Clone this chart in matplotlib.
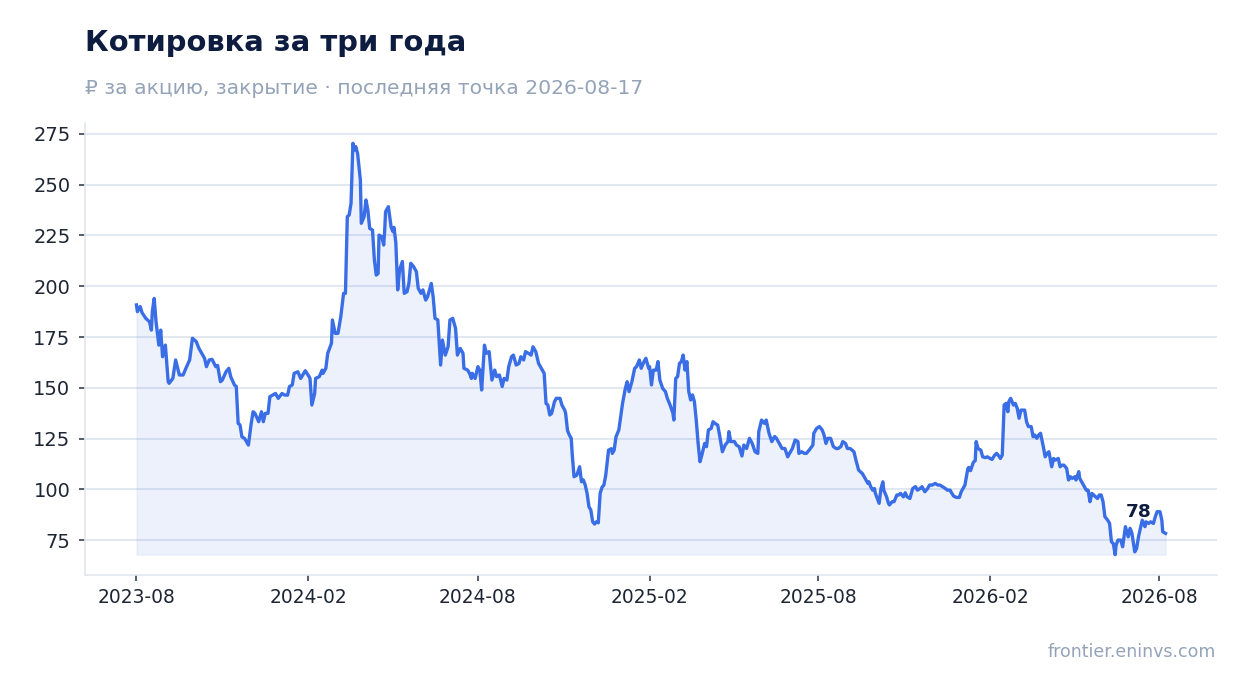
import matplotlib
matplotlib.use("Agg")
import matplotlib.pyplot as plt
import numpy as np
import pandas as pd

# ---------------- data ----------------
start_date = "2023-08-01"
days_since_start = [
    0, 1, 4, 6, 10, 14, 16, 17, 19, 21, 24, 26, 28, 31, 34, 35, 39, 42, 46, 50,
    53, 57, 60, 64, 67, 73, 75, 78, 81, 85, 87, 90, 92, 96, 99, 101, 105, 107, 109, 111,
    113, 116, 117, 120, 123, 125, 127, 131, 134, 136, 138, 141, 143, 146, 149, 152, 156, 159, 162, 164,
    167, 169, 173, 176, 181, 185, 186, 188, 191, 192, 196, 199, 200, 203, 205, 209, 210, 213, 216, 219,
    222, 224, 226, 228, 230, 232, 234, 235, 237, 240, 241, 244, 246, 248, 250, 253, 255, 257, 259, 260,
    263, 265, 266, 267, 270, 273, 275, 276, 278, 280, 282, 285, 287, 290, 292, 294, 297, 300, 302, 305,
    307, 310, 312, 316, 318, 320, 323, 325, 326, 328, 331, 334, 336, 339, 342, 344, 347, 350, 351, 355,
    357, 359, 360, 363, 366, 368, 370, 373, 375, 378, 381, 384, 386, 389, 392, 394, 397, 399, 402, 404,
    407, 410, 412, 415, 417, 420, 423, 425, 428, 431, 435, 437, 439, 441, 443, 445, 448, 450, 454, 456,
    459, 460, 462, 464, 466, 467, 469, 472, 475, 477, 479, 481, 483, 485, 487, 489, 491, 493, 495, 497,
    499, 501, 503, 506, 509, 510, 512, 514, 517, 519, 521, 524, 526, 528, 531, 534, 536, 539, 541, 544,
    546, 549, 550, 552, 554, 557, 559, 561, 564, 567, 569, 572, 575, 576, 578, 580, 582, 584, 586, 588,
    590, 592, 594, 596, 598, 600, 602, 604, 606, 609, 611, 613, 616, 618, 620, 623, 625, 628, 631, 634,
    635, 637, 641, 643, 646, 649, 651, 654, 657, 660, 663, 666, 667, 670, 673, 675, 678, 681, 684, 686,
    689, 692, 695, 698, 700, 703, 706, 709, 710, 713, 716, 718, 721, 725, 726, 729, 732, 735, 737, 739,
    741, 744, 747, 750, 752, 755, 757, 760, 762, 765, 767, 769, 771, 774, 776, 778, 781, 784, 785, 787,
    789, 791, 792, 794, 796, 798, 800, 801, 804, 806, 807, 810, 812, 815, 817, 819, 822, 824, 826, 829,
    832, 835, 837, 840, 842, 845, 848, 850, 853, 856, 859, 861, 864, 867, 869, 872, 874, 876, 879, 882,
    884, 886, 888, 891, 892, 894, 897, 899, 900, 902, 905, 907, 910, 912, 915, 917, 920, 922, 925, 926,
    928, 930, 932, 934, 935, 937, 940, 942, 944, 946, 948, 950, 952, 954, 956, 959, 961, 963, 965, 967,
    969, 972, 974, 976, 978, 981, 983, 985, 988, 990, 992, 994, 997, 999, 1001, 1003, 1006, 1007, 1010, 1011,
    1013, 1016, 1018, 1020, 1022, 1024, 1026, 1028, 1030, 1032, 1034, 1036, 1038, 1041, 1043, 1045, 1047, 1049, 1050, 1052,
    1055, 1057, 1060, 1063, 1065, 1067, 1070, 1072, 1074, 1076, 1078, 1081, 1082, 1085, 1087, 1090, 1092, 1094, 1097, 1099,
    1100, 1103,
]
close_price = [
    190.8, 187.5, 190.0, 187.0, 184.2, 182.5, 178.4, 187.5, 194.0, 182.5, 171.0, 178.4, 165.3, 171.0, 153.0, 152.2, 154.6, 163.7, 156.3, 156.3,
    159.6, 163.7, 174.4, 172.8, 169.4, 164.5, 160.4, 163.7, 164.0, 160.4, 161.0, 153.0, 153.8, 157.9, 159.6, 155.5, 151.4, 150.6, 132.5, 131.7,
    125.9, 125.0, 124.2, 121.8, 132.5, 138.2, 137.4, 133.3, 138.2, 133.3, 137.4, 137.4, 145.6, 146.4, 147.2, 144.8, 147.2, 146.4, 146.4, 150.6,
    151.4, 157.1, 157.9, 154.6, 158.4, 155.5, 154.6, 141.5, 147.2, 154.6, 155.5, 158.7, 157.1, 159.6, 167.0, 171.9, 183.4, 176.8, 176.8, 185.0,
    196.5, 196.5, 234.3, 235.1, 240.9, 270.4, 267.1, 268.8, 265.5, 252.3, 231.0, 234.3, 242.5, 237.6, 228.5, 227.7, 213.0, 205.5, 206.3, 225.2,
    224.4, 220.3, 226.9, 236.7, 239.2, 229.0, 226.9, 229.0, 221.5, 198.2, 208.0, 212.2, 196.5, 197.3, 201.4, 211.3, 209.7, 207.2, 199.0, 196.5,
    198.2, 193.2, 194.8, 201.4, 194.8, 184.2, 183.4, 168.6, 161.2, 173.5, 166.1, 170.2, 183.4, 184.2, 179.3, 166.1, 169.4, 167.0, 159.6, 158.7,
    157.1, 154.6, 157.1, 154.6, 160.4, 158.7, 148.9, 171.0, 167.0, 167.8, 153.8, 158.7, 155.5, 156.3, 150.6, 154.6, 153.8, 160.4, 165.3, 166.1,
    161.2, 162.0, 165.3, 163.7, 167.8, 167.0, 166.1, 170.2, 167.8, 162.0, 158.7, 157.1, 142.3, 141.5, 136.6, 137.4, 143.1, 144.8, 144.8, 141.5,
    139.0, 137.4, 129.0, 126.7, 125.1, 117.7, 106.2, 107.0, 111.1, 103.7, 104.6, 102.1, 98.0, 91.4, 89.8, 84.0, 82.9, 84.0, 83.5, 98.0,
    101.0, 102.1, 107.0, 119.3, 120.0, 117.7, 119.3, 125.9, 129.2, 135.8, 142.3, 149.7, 153.0, 148.1, 153.0, 159.6, 160.4, 163.7, 159.6, 162.9,
    164.5, 159.6, 160.4, 151.4, 158.7, 158.7, 162.9, 153.8, 149.7, 148.1, 144.8, 141.5, 137.4, 134.1, 154.6, 155.5, 162.0, 162.9, 166.1, 158.7,
    162.9, 148.1, 144.0, 146.5, 143.2, 134.1, 122.6, 113.6, 116.9, 122.6, 121.0, 129.2, 130.0, 133.3, 132.5, 131.6, 126.7, 118.5, 121.8, 123.5,
    128.4, 123.5, 123.5, 121.8, 121.0, 116.4, 121.8, 120.1, 125.1, 122.6, 118.5, 117.7, 128.4, 134.1, 132.5, 134.1, 127.6, 123.5, 126.0, 125.1,
    122.6, 120.1, 120.1, 116.0, 117.7, 120.1, 124.3, 123.5, 117.7, 118.5, 117.7, 117.7, 119.3, 121.8, 127.6, 130.0, 130.9, 129.2, 126.7, 122.6,
    125.1, 125.1, 121.0, 120.1, 120.1, 121.0, 123.5, 122.6, 120.1, 120.1, 119.3, 118.5, 114.7, 109.5, 108.6, 107.8, 105.4, 102.9, 103.7, 101.3,
    99.6, 100.4, 98.0, 95.5, 93.1, 100.4, 103.7, 99.6, 96.3, 93.1, 92.3, 93.9, 93.9, 97.2, 97.2, 98.0, 96.3, 98.3, 96.3, 95.5,
    100.4, 101.3, 99.6, 100.4, 101.3, 98.8, 100.4, 102.1, 102.1, 102.9, 102.1, 102.1, 101.3, 100.4, 99.6, 99.6, 98.0, 96.6, 96.0, 96.0,
    98.8, 100.4, 102.1, 110.0, 110.8, 109.2, 113.3, 114.1, 123.5, 120.1, 119.3, 116.0, 115.6, 116.0, 115.2, 114.7, 116.9, 117.7, 116.0, 115.2,
    116.9, 141.5, 142.3, 138.2, 143.2, 144.8, 141.5, 142.3, 139.9, 135.0, 139.0, 139.0, 139.0, 133.3, 130.9, 130.9, 125.9, 126.7, 125.1, 126.7,
    127.6, 121.0, 116.0, 117.7, 118.5, 111.1, 115.2, 114.4, 115.2, 111.1, 111.9, 111.9, 110.3, 104.6, 106.2, 105.4, 106.2, 104.6, 108.7, 105.4,
    103.8, 101.3, 99.6, 99.6, 93.9, 98.0, 97.2, 96.3, 95.5, 97.2, 97.2, 93.9, 86.5, 84.8, 83.2, 74.2, 73.3, 67.8, 72.5, 75.0,
    75.0, 71.7, 81.6, 76.6, 80.8, 78.3, 69.2, 70.9, 76.6, 80.8, 84.8, 81.6, 84.0, 83.2, 84.0, 83.2, 86.5, 89.0, 89.0, 84.8,
    79.1, 78.3,
]
tick_labels = ["2023-08", "2024-02", "2024-08", "2025-02", "2025-08", "2026-02", "2026-08"]
y_ticks = [75, 100, 125, 150, 175, 200, 225, 250, 275]
title_text = "Котировка за три года"
subtitle_text = "₽ за акцию, закрытие · последняя точка 2026-08-17"
source_text = "frontier.eninvs.com"
last_label = "78"

# ---------------- style ----------------
LINE = "#3a6ee6"
NAVY = "#0e1c3f"
MUTED = "#94a3b8"
GRID = "#e2e8f0"
TICK_TXT = "#1e2533"

dates = pd.Timestamp(start_date) + pd.to_timedelta(days_since_start, unit="D")
values = np.array(close_price)

fig = plt.figure(figsize=(12.47, 6.93), dpi=100)
ax = fig.add_axes([85 / 1247, 1 - 575 / 693, (1217 - 85) / 1247, (575 - 123) / 693])

base = values.min()
ax.fill_between(dates, values, base, color=LINE, alpha=0.09, linewidth=0.8, zorder=1)
ax.plot(dates, values, color=LINE, linewidth=2.4, solid_joinstyle="round", zorder=3)

# axis limits with padding
span = dates[-1] - dates[0]
ax.set_xlim(dates[0] - span * 0.05, dates[-1] + span * 0.05)
ax.set_ylim(values.min() - 10, values.max() + 10)

ax.set_yticks(y_ticks)
ax.set_yticklabels([str(v) for v in y_ticks])
ax.set_xticks(pd.to_datetime(tick_labels))
ax.set_xticklabels(tick_labels)

ax.set_axisbelow(True)
ax.yaxis.grid(True, color=GRID, linewidth=1.4)
ax.xaxis.grid(False)
for s in ["top", "right"]:
    ax.spines[s].set_visible(False)
for s in ["left", "bottom"]:
    ax.spines[s].set_color(GRID)
    ax.spines[s].set_linewidth(1.2)

ax.tick_params(axis="y", length=4, width=1.2, color="#3a4252", pad=6.5,
               labelsize=14, labelcolor=TICK_TXT)
ax.tick_params(axis="x", length=4.5, width=1.2, color="#3a4252", pad=5,
               labelsize=13.4, labelcolor=TICK_TXT)

# last value label
ax.annotate(last_label, xy=(dates[-1], values[-1]), xytext=(-19.5, 15.5),
            textcoords="offset points", ha="center", va="center",
            fontsize=13.3, fontweight="bold", color=NAVY, zorder=4)

fig.text(85 / 1247, 1 - 43 / 693, title_text, fontsize=20.9, fontweight="bold",
         color=NAVY, ha="left", va="center")
fig.text(85 / 1247, 1 - 88 / 693, subtitle_text, fontsize=14.6,
         color=MUTED, ha="left", va="center")
fig.text(1216 / 1247, 1 - 652 / 693, source_text, fontsize=12.5,
         color=MUTED, ha="right", va="center")

fig.savefig("out.png", dpi=100, facecolor="white")
